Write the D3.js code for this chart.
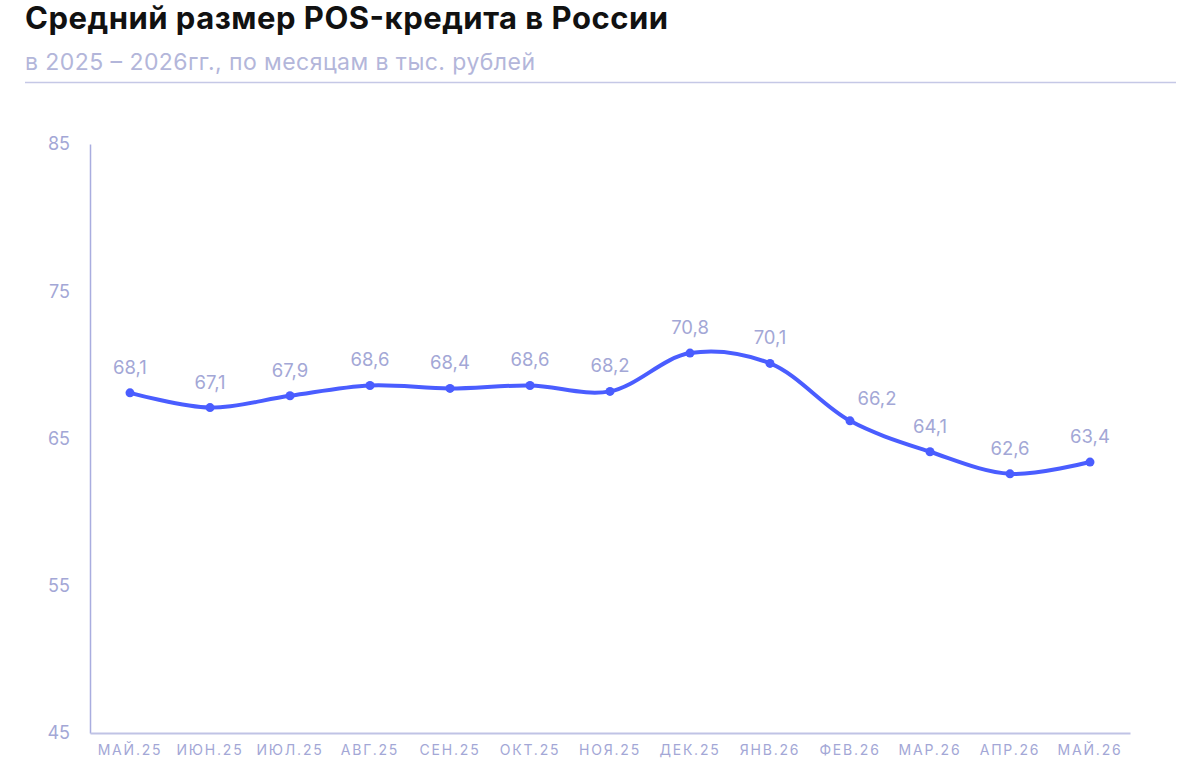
<!DOCTYPE html>
<html>
<head>
<meta charset="utf-8">
<script src="https://cdn.jsdelivr.net/npm/d3@7"></script>
<style>
  body { margin: 0; background: #fff; }
  svg { font-family: Inter, "Noto Sans", sans-serif; }
</style>
</head>
<body>
<div id="chart"></div>
<script>
// data
var months = ["МАЙ.25", "ИЮН.25", "ИЮЛ.25", "АВГ.25", "СЕН.25", "ОКТ.25", "НОЯ.25",
              "ДЕК.25", "ЯНВ.26", "ФЕВ.26", "МАР.26", "АПР.26", "МАЙ.26"];
var values = [68.1, 67.1, 67.9, 68.6, 68.4, 68.6, 68.2, 70.8, 70.1, 66.2, 64.1, 62.6, 63.4];
var yTicks = [45, 55, 65, 75, 85];

var W = 1200, H = 780;
var margin = {top: 144, right: 70, bottom: 47, left: 90},
    width = W - margin.left - margin.right,
    height = H - margin.top - margin.bottom;

var svg = d3.select("#chart").append("svg")
    .attr("width", W)
    .attr("height", H);

// title block
svg.append("text")
    .attr("x", 25).attr("y", 29)
    .attr("font-size", 31).attr("font-weight", 700)
    .attr("fill", "#111")
    .attr("textLength", 643)
    .text("Средний размер POS-кредита в России");
svg.append("text")
    .attr("x", 25).attr("y", 70)
    .attr("font-size", 23)
    .attr("fill", "#b3b6da")
    .attr("textLength", 510)
    .text("в 2025 – 2026гг., по месяцам в тыс. рублей");
svg.append("line")
    .attr("x1", 25).attr("x2", 1176)
    .attr("y1", 82.5).attr("y2", 82.5)
    .attr("stroke", "#c5c8e6").attr("stroke-width", 1.5);

var g = svg.append("g")
    .attr("transform", "translate(" + margin.left + "," + margin.top + ")");

var x = d3.scaleBand()
    .domain(months)
    .range([0, width]);

var y = d3.scaleLinear()
    .domain([45, 85])
    .range([height, 0]);

// y axis
var yAxis = g.append("g")
    .call(d3.axisLeft(y).tickValues(yTicks).tickSize(0).tickPadding(20));
yAxis.select(".domain").attr("stroke", "#a9addf").attr("stroke-width", 1.5);
yAxis.selectAll("text")
    .attr("fill", "#a3a7d6")
    .style("font-size", "18px")
    .style("font-family", "Inter, 'Noto Sans', sans-serif");

// x axis
var xAxis = g.append("g")
    .attr("transform", "translate(0," + height + ")")
    .call(d3.axisBottom(x).tickSize(0).tickPadding(12));
xAxis.select(".domain").attr("stroke", "#c0c3e5").attr("stroke-width", 2);
xAxis.selectAll("text")
    .attr("fill", "#a3a7d6")
    .style("font-size", "14px")
    .style("letter-spacing", "1.8px")
    .style("font-family", "Inter, 'Noto Sans', sans-serif");

var pts = values.map(function(v, i) { return {m: months[i], v: v}; });

var line = d3.line()
    .x(function(d) { return x(d.m) + x.bandwidth() / 2; })
    .y(function(d) { return y(d.v); })
    .curve(d3.curveCatmullRom.alpha(0.5));

g.append("path")
    .datum(pts)
    .attr("fill", "none")
    .attr("stroke", "#4a5dff")
    .attr("stroke-width", 4)
    .attr("stroke-linecap", "round")
    .attr("d", line);

g.selectAll("circle.dot")
    .data(pts)
    .enter().append("circle")
    .attr("class", "dot")
    .attr("cx", function(d) { return x(d.m) + x.bandwidth() / 2; })
    .attr("cy", function(d) { return y(d.v); })
    .attr("r", 4.5)
    .attr("fill", "#4a5dff");

// the steep-drop label is nudged right, off the line
g.selectAll("text.lbl")
    .data(pts)
    .enter().append("text")
    .attr("class", "lbl")
    .attr("x", function(d) { return x(d.m) + x.bandwidth() / 2 + (d.m === "ФЕВ.26" ? 27 : 0); })
    .attr("y", function(d) { return y(d.v) - (d.m === "ФЕВ.26" ? 16 : 19); })
    .attr("text-anchor", "middle")
    .attr("font-size", 18.5)
    .attr("fill", "#a3a7d6")
    .text(function(d) { return String(d.v).replace(".", ","); });
</script>
</body>
</html>
